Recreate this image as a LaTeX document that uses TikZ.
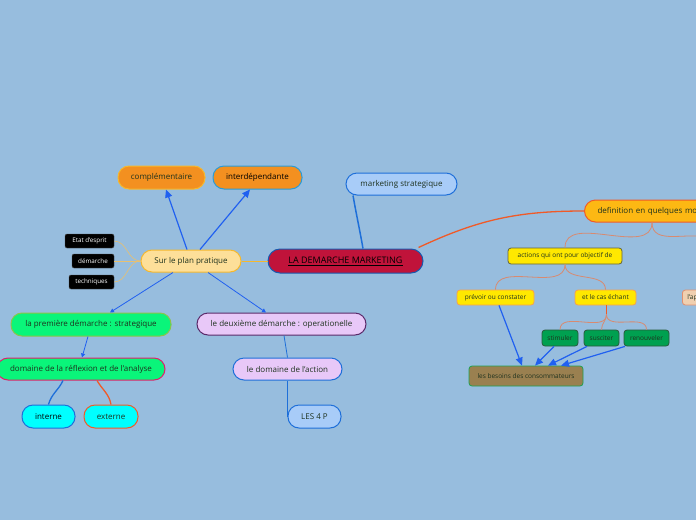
\documentclass[tikz,border=0pt]{standalone}
\usepackage{fontspec}
\setmainfont{Open Sans}
\usetikzlibrary{arrows.meta,calc}
\definecolor{bg}{RGB}{151,189,222}
\definecolor{orA}{RGB}{243,144,32}
\definecolor{ylB}{RGB}{245,184,46}
\definecolor{skyB}{RGB}{42,155,216}
\definecolor{lbF}{RGB}{168,204,248}
\definecolor{blB}{RGB}{30,111,217}
\definecolor{crim}{RGB}{192,19,58}
\definecolor{paleY}{RGB}{253,223,153}
\definecolor{grF}{RGB}{10,245,122}
\definecolor{olB}{RGB}{140,195,74}
\definecolor{lavF}{RGB}{232,200,248}
\definecolor{puB}{RGB}{90,42,106}
\definecolor{pkB}{RGB}{224,32,106}
\definecolor{cyF}{RGB}{0,255,255}
\definecolor{orR}{RGB}{240,90,40}
\definecolor{defF}{RGB}{253,184,19}
\definecolor{yeF}{RGB}{255,232,0}
\definecolor{dkB}{RGB}{100,100,60}
\definecolor{orB}{RGB}{245,160,80}
\definecolor{beF}{RGB}{240,208,176}
\definecolor{beB}{RGB}{224,144,112}
\definecolor{dgF}{RGB}{0,160,80}
\definecolor{dgB}{RGB}{40,90,60}
\definecolor{brF}{RGB}{154,128,80}
\definecolor{brB}{RGB}{32,160,80}
\definecolor{arB}{RGB}{32,96,240}
\definecolor{salm}{RGB}{216,138,112}
\definecolor{txt}{RGB}{30,50,30}
\definecolor{pyl}{RGB}{232,192,112}
\tikzset{
  pill/.style={draw, line width=1pt, rounded corners=11pt, minimum height=22pt, inner sep=0pt, text=txt, font=\fontsize{8}{9}\selectfont},
  tag/.style={draw=black!70, fill=black, rounded corners=2pt, minimum height=14pt, inner sep=0pt, text=white, font=\fontsize{6.3}{7}\selectfont},
  box/.style={draw, line width=0.8pt, rounded corners=3pt, minimum height=15pt, inner sep=0pt, text=txt, font=\fontsize{6.5}{7}\selectfont},
  arr/.style={draw=arB, line width=1.2pt, -{Triangle[length=8pt,width=7pt]}},
  sarr/.style={draw=arB, line width=0.8pt, -{Triangle[length=4pt,width=4pt]}},
  br/.style={draw=salm, line width=0.8pt},
}
\begin{document}
\begin{tikzpicture}[x=1pt,y=-1pt]
\fill[bg] (0,0) rectangle (696,520);
\useasboundingbox (0,0) rectangle (696,520);
\clip (0,0) rectangle (696,520);

% nodes
\node[pill, fill=orA, draw=ylB, minimum width=87pt, minimum height=23pt] (comp) at (161.5,177.5) {complémentaire};
\node[pill, fill=orA, draw=skyB, minimum width=89pt, minimum height=23pt, text=black] (inter) at (257.5,177.5) {interdépendante};
\node[pill, fill=lbF, draw=blB, minimum width=111pt] (mkt) at (401.5,184) {marketing strategique};
\node[pill, fill=crim, draw=blB!80!black, minimum width=155pt, minimum height=24pt, rounded corners=12pt, text=black, font=\fontsize{9}{10}\selectfont] (dem) at (345.5,261) {\underline{LA DEMARCHE MARKETING}};
\node[pill, fill=paleY, draw=ylB, minimum width=100pt] (sur) at (191,261) {Sur le plan pratique};
\node[tag, minimum width=49pt] (etat) at (89.5,241) {Etat d'esprit};
\node[tag, minimum width=42pt] (dema) at (93,261) {démarche};
\node[tag, minimum width=45pt] (tech) at (91.5,282) {techniques};
\node[pill, fill=grF, draw=olB, minimum width=160pt, minimum height=23pt] (prem) at (91,324.5) {la première démarche : strategique};
\node[pill, fill=lavF, draw=puB, minimum width=169pt] (deux) at (281.5,324) {le deuxième démarche : operationelle};
\node[pill, fill=grF, draw=pkB, minimum width=168pt] (refl) at (81,369) {domaine de la réflexion et de l'analyse};
\node[pill, fill=lavF, draw=blB, minimum width=109pt] (act) at (287.5,369) {le domaine de l'action};
\node[pill, fill=cyF, draw=blB, minimum width=53pt, minimum height=23pt, text=black] (int) at (48.5,416.5) {interne};
\node[pill, fill=cyF, draw=orR, minimum width=54pt, minimum height=23pt] (ext) at (111,416.5) {externe};
\node[pill, fill=lbF, draw=blB, minimum width=53pt, minimum height=23pt] (les) at (314.5,416.5) {LES 4 P};
\node[pill, fill=defF, draw=orR, anchor=west, text width=121pt, inner xsep=13pt, align=left] (def) at (584,211) {definition en quelques mots};
\node[box, fill=yeF, draw=dkB, minimum width=114pt, minimum height=16pt] (acts) at (565,256) {actions qui ont pour objectif de};
\node[box, fill=yeF, draw=orB, minimum width=77pt] (prev) at (495.5,297.5) {prévoir ou constater};
\node[box, fill=yeF, draw=orB, minimum width=61pt] (cas) at (605.5,297.5) {et le cas échant};
\node[box, fill=beF, draw=beB, anchor=west, text width=40pt, inner xsep=5pt, align=left] (lap) at (682,297.5) {l'ap};
\node[box, fill=dgF, draw=dgB, minimum width=36pt, minimum height=16pt] (stim) at (560,338) {stimuler};
\node[box, fill=dgF, draw=dgB, minimum width=35pt, minimum height=16pt] (susc) at (601.5,338) {susciter};
\node[box, fill=dgF, draw=dgB, minimum width=45pt, minimum height=16pt] (renv) at (646.5,338) {renouveler};
\node[box, fill=brF, draw=brB, minimum width=114pt, minimum height=20pt] (bes) at (526,376) {les besoins des consommateurs};

% connectors
\draw[ylB, line width=1pt] (sur.east) -- (dem.west);
\draw[pyl, line width=0.6pt] (sur.west) to[out=180,in=0] (etat.east);
\draw[pyl, line width=0.6pt] (sur.west) -- (dema.east);
\draw[pyl, line width=0.6pt] (sur.west) to[out=180,in=0] (tech.east);
\draw[arr] ([xshift=-4pt]sur.north) -- ([xshift=4.5pt]comp.south);
\draw[arr] ([xshift=9pt]sur.north) -- ([xshift=-7.5pt]inter.south);
\draw[sarr] ([xshift=-18pt]sur.south) -- ([xshift=19pt]prem.north);
\draw[sarr] ([xshift=17pt]sur.south) -- ([xshift=-15.5pt]deux.north);
\draw[sarr] ([xshift=-3pt]prem.south) -- ([xshift=1pt]refl.north);
\draw[blB, line width=0.8pt] ([xshift=2.5pt]deux.south) -- (act.north);
\draw[blB, line width=1.3pt] ([xshift=-18pt]refl.south) to[out=-115,in=75] (int.north);
\draw[orR, line width=1.3pt] ([xshift=16pt]refl.south) to[out=-60,in=100] (ext.north);
\draw[blB, line width=1.5pt] (les.west) -- (les.west |- act.south);
\draw[blB, line width=1.5pt] ([xshift=17.5pt]dem.north) to[out=100,in=-80] ([xshift=-48.5pt]mkt.south);
\draw[orR, line width=1.3pt] ([xshift=73pt,yshift=1pt]dem.north) to[out=25,in=180] (def.west);
% brace-like branches
\coordinate (dj) at ([xshift=-6pt]def.south);
\draw[br] (dj) to[out=-90,in=90] (acts.north);
\draw[br] (dj) to[out=-90,in=160] ($(dj)+(60,16)$);
\draw[br] (acts.south) to[out=-90,in=90] (prev.north);
\draw[br] (acts.south) to[out=-90,in=90] (cas.north);
\coordinate (cj) at ([xshift=1pt,yshift=-9pt]cas.south);
\draw[orR, line width=0.8pt] ([xshift=1pt]cas.south) -- (cj);
\draw[br] (cj) to[out=-90,in=90] (stim.north);
\draw[br] (cj) to[out=-90,in=90] (susc.north);
\draw[br] (cj) to[out=-90,in=90] (renv.north);
% arrows to besoins
\draw[arr] ([xshift=3.5pt]prev.south) -- ([xshift=-4pt]bes.north);
\draw[arr] ([xshift=-6pt]stim.south) -- ([xshift=9pt]bes.north);
\draw[arr] ([xshift=-14.5pt]susc.south) -- ([xshift=22pt]bes.north);
\draw[arr] ([xshift=-21.5pt]renv.south) -- ([xshift=35pt]bes.north);
\end{tikzpicture}
\end{document}
